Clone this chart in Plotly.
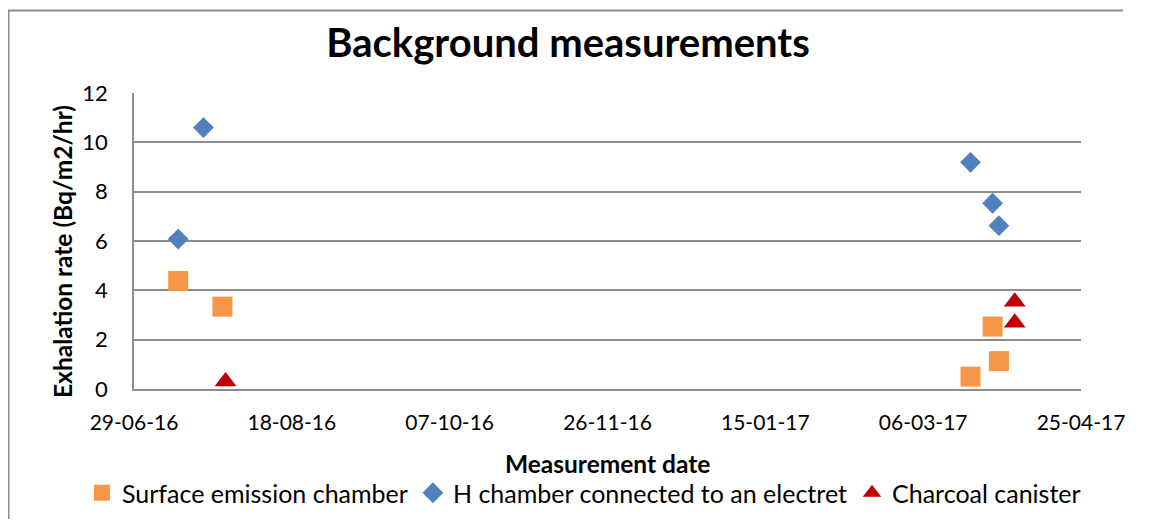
import plotly.graph_objects as go

# Data
surface_dates = ["2016-07-13", "2016-07-27", "2017-03-21", "2017-03-28", "2017-03-30"]
surface_vals = [4.38, 3.34, 0.5, 2.53, 1.13]

hchamber_dates = ["2016-07-13", "2016-07-21", "2017-03-21", "2017-03-28", "2017-03-30"]
hchamber_vals = [6.08, 10.6, 9.19, 7.53, 6.62]

charcoal_dates = ["2016-07-28", "2017-04-04", "2017-04-04"]
charcoal_vals = [0.3, 3.54, 2.69]

x_start = "2016-06-29"
x_end = "2017-04-25"
y_ticks = [0, 2, 4, 6, 8, 10, 12]

# page has an 8px body margin; figure coordinates = page coordinates - 8
OFF = 8
W, H = 1135, 512
ML, MT = 134 - OFF, 93 - OFF
MR = W - (1081 - OFF)
MB = H - (389 - OFF)
PW, PH = W - ML - MR, H - MT - MB


def px(page_x):
    return (page_x - OFF - ML) / PW


def py(page_y):
    return (H - MB - (page_y - OFF)) / PH


FONT = "Lato"
GRID = "#8c8c8c"

fig = go.Figure()
fig.add_trace(go.Scatter(
    x=surface_dates, y=surface_vals, mode="markers", name="Surface emission chamber",
    marker=dict(symbol="square", size=20, color="#F79646"),
))
fig.add_trace(go.Scatter(
    x=hchamber_dates, y=hchamber_vals, mode="markers", name="H chamber connected to an electret",
    marker=dict(symbol="diamond", size=16, color="#4F81BD"),
))
fig.add_trace(go.Scatter(
    x=charcoal_dates, y=charcoal_vals, mode="markers", name="Charcoal canister",
    marker=dict(symbol="triangle-up", size=19, color="#C00000"),
))

fig.update_layout(
    width=W, height=H,
    margin=dict(l=ML, r=MR, t=MT, b=MB, autoexpand=False),
    paper_bgcolor="white", plot_bgcolor="white",
    font=dict(family=FONT, size=21, color="black"),
    title=dict(text="<b>Background measurements</b>", x=(568 - OFF) / W, xref="container",
               xanchor="center", y=1 - (43 - OFF) / H, yanchor="middle",
               font=dict(family=FONT, size=40, color="black")),
    showlegend=True,
    legend=dict(orientation="h", x=px(82), xanchor="left", y=py(493),
                yanchor="middle", font=dict(family=FONT, size=25), itemwidth=30,
                bgcolor="rgba(0,0,0,0)", borderwidth=0),
    xaxis=dict(
        type="date", range=[x_start, x_end], tick0=x_start, dtick=50 * 86400000,
        tickformat="%d-%m-%y", showgrid=False, zeroline=False,
        showline=True, linecolor=GRID, linewidth=1.5, ticks="",
        ticklabelstandoff=14, tickfont=dict(family=FONT, size=21),
    ),
    yaxis=dict(
        range=[0, 12], tickvals=y_ticks, showgrid=True, gridcolor=GRID, gridwidth=1.5,
        zeroline=False, showline=True, linecolor=GRID, linewidth=1.5, ticks="",
        ticklabelstandoff=20, tickfont=dict(family=FONT, size=22),
    ),
    annotations=[
        dict(text="<b>Exhalation rate (Bq/m2/hr)</b>", xref="paper", yref="paper",
             x=px(62), y=py(252), xanchor="center", yanchor="middle",
             textangle=-90, showarrow=False, font=dict(family=FONT, size=24.5)),
        dict(text="<b>Measurement date</b>", xref="paper", yref="paper",
             x=px(607), y=py(463), xanchor="center", yanchor="middle",
             showarrow=False, font=dict(family=FONT, size=24.5)),
    ],
    shapes=[
        dict(type="path", xref="paper", yref="paper",
             path="M {:.5f},{:.5f} L {:.5f},{:.5f} L {:.5f},{:.5f}".format(
                 px(8.5), py(OFF + H - 1), px(8.5), py(10.5), px(OFF + W - 20), py(10.5)),
             line=dict(color=GRID, width=2)),
    ],
)

fig.write_html("out.html")
